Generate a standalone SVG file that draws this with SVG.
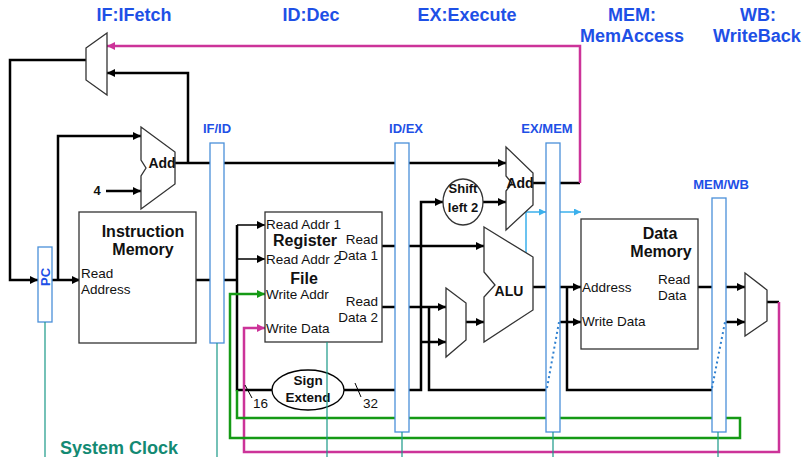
<svg xmlns="http://www.w3.org/2000/svg" width="803" height="457" viewBox="0 0 803 457">
<defs>
<marker id="ak" viewBox="0 0 10 10" refX="10" refY="5" markerUnits="userSpaceOnUse" markerWidth="9" markerHeight="8" orient="auto"><path d="M0,0 L10,5 L0,10 z" fill="#000"/></marker>
<marker id="am" viewBox="0 0 10 10" refX="10" refY="5" markerUnits="userSpaceOnUse" markerWidth="9" markerHeight="8" orient="auto"><path d="M0,0 L10,5 L0,10 z" fill="#cc3399"/></marker>
<marker id="ag" viewBox="0 0 10 10" refX="10" refY="5" markerUnits="userSpaceOnUse" markerWidth="9" markerHeight="8" orient="auto"><path d="M0,0 L10,5 L0,10 z" fill="#159a15"/></marker>
<marker id="ab" viewBox="0 0 10 10" refX="10" refY="5" markerUnits="userSpaceOnUse" markerWidth="8" markerHeight="7" orient="auto"><path d="M0,0 L10,5 L0,10 z" fill="#3bb0ec"/></marker>
</defs>
<style>
text{font-family:"Liberation Sans",Arial,sans-serif}
.w{fill:none;stroke:#000;stroke-width:2.5;stroke-linejoin:miter}
.t{fill:none;stroke:#000;stroke-width:1.5}
.m{fill:none;stroke:#cc3399;stroke-width:2.5}
.g{fill:none;stroke:#159a15;stroke-width:2.5}
.lb{fill:none;stroke:#3bb0ec;stroke-width:1.5}
.dot{fill:none;stroke:#2f80d0;stroke-width:2;stroke-dasharray:2 3}
.clk{fill:none;stroke:#1a9988;stroke-width:1.2}
.reg{fill:#fff;stroke:#4a90d9;stroke-width:1.3}
.box{fill:#fff;stroke:#333;stroke-width:1.3}
.title{font-size:18px;font-weight:bold;fill:#1e50e6}
.rl{font-size:13px;font-weight:bold;fill:#1e50e6}
.lbl{font-size:13.5px;fill:#111}
.bl{font-weight:bold;fill:#111}
</style>
<text class="title" x="134" y="21" text-anchor="middle">IF:IFetch</text>
<text class="title" x="311" y="21" text-anchor="middle">ID:Dec</text>
<text class="title" x="467" y="21" text-anchor="middle">EX:Execute</text>
<text class="title" x="632" y="21" text-anchor="middle">MEM:</text>
<text class="title" x="632" y="42" text-anchor="middle">MemAccess</text>
<text class="title" x="758" y="21" text-anchor="middle">WB:</text>
<text class="title" x="713" y="42">WriteBack</text>
<text x="60" y="454" font-size="18" font-weight="bold" fill="#138a73">System Clock</text>
<g id="connectors">
<path class="w" d="M86,60 H10 V280 H38" marker-end="url(#ak)"/>
<path class="w" d="M52,280 H80" marker-end="url(#ak)"/>
<path class="w" d="M58,280 V136 H141" marker-end="url(#ak)"/>
<path class="w" d="M106,191 H141" marker-end="url(#ak)"/>
<path class="w" d="M175,163 H210 M224,163 H395"/>
<path class="w" d="M409,163 H506" marker-end="url(#ak)"/>
<path class="w" d="M188,163 V73 H107" marker-end="url(#ak)"/>
<path class="w" d="M196,280 H210 M224,280 H237"/>
<path class="w" d="M237,225 V390 H272"/>
<path class="t" d="M237,225 H265" marker-end="url(#ak)"/>
<path class="t" d="M237,259 H265" marker-end="url(#ak)"/>
<path class="w" d="M344,390 H395"/>
<path class="w" d="M409,390 H421 V202 H443" marker-end="url(#ak)"/>
<path class="w" d="M421,342 H446" marker-end="url(#ak)"/>
<path class="w" d="M382,246 H395"/>
<path class="w" d="M409,246 H484" marker-end="url(#ak)"/>
<path class="w" d="M382,307 H395"/>
<path class="w" d="M409,307 H446" marker-end="url(#ak)"/>
<path class="w" d="M429,307 V390 H546"/>
<path class="w" d="M466,322 H484" marker-end="url(#ak)"/>
<path class="w" d="M483,202 H506" marker-end="url(#ak)"/>
<path class="w" d="M533,183 H546 M560,183 H580"/>
<path class="w" d="M533,287 H546"/>
<path class="w" d="M560,287 H581" marker-end="url(#ak)"/>
<path class="w" d="M567,287 V390 H712"/>
<path class="w" d="M560,322 H581" marker-end="url(#ak)"/>
<path class="w" d="M698,287 H712"/>
<path class="w" d="M725,287 H745" marker-end="url(#ak)"/>
<path class="w" d="M725,322 H745" marker-end="url(#ak)"/>
<path class="w" d="M767,302 H779"/>
<path class="m" d="M580,183 V46 H107" marker-end="url(#am)"/>
<path class="m" d="M779,302 V452 H244 V328 H265" marker-end="url(#am)"/>
<path class="g" d="M237,390 V418 H740 V438 H230 V294 H265" marker-end="url(#ag)"/>
<path class="lb" d="M526,253 V212 H546" marker-end="url(#ab)"/>
<path class="lb" d="M560,212 H581" marker-end="url(#ab)"/>
<path fill="none" stroke="#000" stroke-width="1" d="M245,385 L252,398 M355,383 L361,397"/>
</g>
<g id="pc"><rect class="reg" x="38" y="247" width="14" height="75"/><text class="rl" transform="translate(49.5,277) rotate(-90)" text-anchor="middle">PC</text></g>
<g id="if-id"><rect class="reg" x="210" y="143" width="14" height="200"/><text class="rl" x="217" y="133" text-anchor="middle">IF/ID</text></g>
<g id="id-ex"><rect class="reg" x="395" y="143" width="14" height="289"/><text class="rl" x="406" y="133" text-anchor="middle">ID/EX</text></g>
<g id="ex-mem"><rect class="reg" x="546" y="143" width="14" height="289"/><text class="rl" x="547" y="133" text-anchor="middle">EX/MEM</text></g>
<g id="mem-wb"><rect class="reg" x="712" y="198" width="14" height="234"/><text class="rl" x="721" y="189" text-anchor="middle">MEM/WB</text></g>
<g id="pc-mux"><polygon class="box" points="86,48 107,33 107,95 86,80"/></g>
<g id="if-add"><polygon class="box" points="141,127 175,152 175,184 141,209 141,176 146,168 141,160"/><text class="bl" x="162" y="168" font-size="14" text-anchor="middle">Add</text></g>
<text class="bl" x="97" y="195" font-size="13" text-anchor="middle">4</text>
<g id="instr-mem"><rect class="box" x="79" y="212" width="117" height="131"/>
<text class="bl" x="143" y="237" font-size="16" text-anchor="middle">Instruction</text>
<text class="bl" x="143" y="255" font-size="16" text-anchor="middle">Memory</text>
<text class="lbl" x="81" y="278">Read</text><text class="lbl" x="81" y="294">Address</text></g>
<g id="reg-file"><rect class="box" x="265" y="212" width="117" height="130"/>
<text class="lbl" x="266" y="229">Read Addr 1</text>
<text class="bl" x="305" y="246" font-size="16" text-anchor="middle">Register</text>
<text class="lbl" x="378" y="244" text-anchor="end">Read</text>
<text class="lbl" x="378" y="260" text-anchor="end">Data 1</text>
<text class="lbl" x="266" y="264">Read Addr 2</text>
<text class="bl" x="304" y="284" font-size="16" text-anchor="middle">File</text>
<text class="lbl" x="266" y="299">Write Addr</text>
<text class="lbl" x="378" y="306" text-anchor="end">Read</text>
<text class="lbl" x="378" y="322" text-anchor="end">Data 2</text>
<text class="lbl" x="266" y="333">Write Data</text></g>
<g id="sign-extend"><ellipse cx="308" cy="390" rx="36" ry="20" fill="none" stroke="#000" stroke-width="1.3"/>
<text class="bl" x="308" y="385" font-size="13.5" text-anchor="middle">Sign</text>
<text class="bl" x="308" y="402" font-size="13.5" text-anchor="middle">Extend</text>
<text class="lbl" x="253" y="408" font-size="14">16</text>
<text class="lbl" x="363" y="408" font-size="14">32</text></g>
<g id="shift-left"><ellipse cx="463" cy="202" rx="20" ry="23" class="box"/>
<text class="bl" x="463" y="193" font-size="13" text-anchor="middle">Shift</text>
<text class="bl" x="463" y="212" font-size="13" text-anchor="middle">left 2</text></g>
<g id="ex-add"><polygon class="box" points="506,147 533,173 533,205 506,230 506,191 512,183 506,176"/><text class="bl" x="520" y="188" font-size="14" text-anchor="middle">Add</text></g>
<g id="alu"><polygon class="box" points="484,227 533,257 533,310 484,342 484,297 495,285 484,272"/><text class="bl" x="509" y="296" font-size="14" text-anchor="middle">ALU</text></g>
<g id="ex-mux"><polygon class="box" points="446,288 466,303 466,340 446,357"/></g>
<g id="data-mem"><rect class="box" x="581" y="219" width="117" height="130"/>
<text class="bl" x="660" y="239" font-size="16" text-anchor="middle">Data</text>
<text class="bl" x="661" y="257" font-size="16" text-anchor="middle">Memory</text>
<text class="lbl" x="582" y="292">Address</text>
<text class="lbl" x="658" y="284">Read</text>
<text class="lbl" x="658" y="300">Data</text>
<text class="lbl" x="582" y="326">Write Data</text></g>
<g id="wb-mux"><polygon class="box" points="745,273 767,290 767,321 745,336"/></g>
<g id="clock">
<path class="clk" d="M45,322 V457 M217,343 V457 M327,342 V457 M402,432 V457 M553,432 V457 M718,432 V457"/>
<path class="dot" d="M547,388 L559,322 M712,388 L725,322"/>
</g>
</svg>
